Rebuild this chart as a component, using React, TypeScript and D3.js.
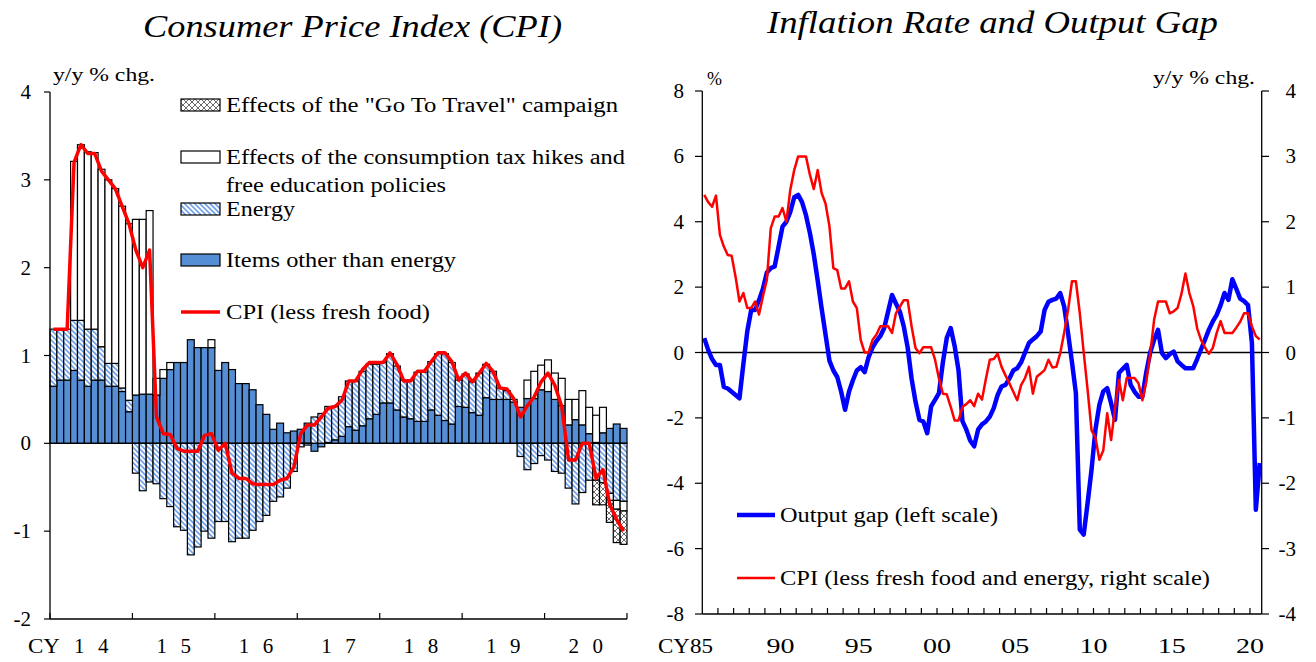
import React from "react";
import * as d3 from "d3";

const FONT = '"Liberation Serif", "Times New Roman", serif';

// ---------- left panel: CPI contributions, monthly Jan 2014 - Dec 2020
const cpiYears = ["14", "15", "16", "17", "18", "19", "20"];

const itemsOther = [
  0.65, 0.72, 0.72, 0.83, 0.72, 0.65, 0.72, 0.72, 0.65, 0.65, 0.59, 0.36,
  0.55, 0.56, 0.56, 0.55, 0.74, 0.84, 0.92, 0.92, 1.18, 1.09, 1.09, 1.09,
  0.83, 0.92, 0.84, 0.68, 0.68, 0.61, 0.44, 0.33, 0.16, 0.23, 0.12, 0.14,
  0.16, 0.23, -0.09, -0.04, 0.01, 0.04, 0.08, 0.19, 0.15, 0.2, 0.28, 0.33,
  0.46, 0.46, 0.38, 0.3, 0.28, 0.25, 0.25, 0.38, 0.32, 0.26, 0.22, 0.42,
  0.41, 0.35, 0.32, 0.52, 0.5, 0.5, 0.5, 0.47, 0.41, 0.51, 0.51, 0.61,
  0.59, 0.5, 0.43, 0.21, 0.27, 0.21, 0.11, 0.01, 0.12, 0.17, 0.22, 0.17,
];
const energy = [
  0.65, 0.58, 0.58, 0.57, 0.68, 0.65, 0.58, 0.38, 0.26, 0.26, 0.04, 0.13,
  -0.34, -0.54, -0.44, -0.46, -0.63, -0.72, -0.95, -0.99, -1.27, -1.18, -1.0, -1.08,
  -0.89, -0.89, -1.12, -1.08, -1.08, -0.99, -0.89, -0.82, -0.66, -0.61, -0.51, -0.32,
  -0.04, -0.02, 0.3, 0.34, 0.41, 0.38, 0.45, 0.52, 0.56, 0.62, 0.62, 0.57,
  0.46, 0.56, 0.5, 0.42, 0.44, 0.56, 0.56, 0.55, 0.7, 0.76, 0.7, 0.3,
  0.38, 0.35, 0.48, 0.38, 0.32, 0.13, 0.1, 0.03, -0.15, -0.3, -0.23, -0.14,
  -0.19, -0.32, -0.34, -0.51, -0.69, -0.56, -0.42, -0.42, -0.45, -0.57, -0.65, -0.66,
];
const taxEffect = [
  0, 0, 0, 1.81, 2.0, 2.02, 2.01, 2.02, 2.09, 1.99, 2.07, 2.01,
  2.0, 1.99, 2.09, 0.19, 0.1, 0.08, 0, 0, 0, 0, 0, 0.09,
  0, 0, 0, 0, 0, 0, 0, 0, 0, 0, 0, 0,
  0, 0, 0, 0, 0, 0, 0, 0, 0, 0, 0, 0,
  0, 0, 0, 0, 0, 0, 0, 0, 0, 0, 0, 0,
  0, 0, 0, 0, 0, 0, 0, 0, 0, 0.21, 0.31, 0.28,
  0.36, 0.3, 0.31, 0.29, 0.23, 0.39, 0.3, 0.31, 0.29, -0.08, -0.1, -0.11,
];
const goToTravel = [
  ...Array(79).fill(0),
  -0.28, -0.25, -0.25, -0.38, -0.38,
];
const cpiLessFresh = [
  1.3, 1.3, 1.3, 3.2, 3.4, 3.3, 3.3, 3.1, 3.0, 2.9, 2.7, 2.5,
  2.2, 2.0, 2.2, 0.3, 0.11, 0.1, -0.06, -0.09, -0.09, -0.09, 0.09, 0.11,
  -0.08, 0.0, -0.34, -0.4, -0.4, -0.46, -0.47, -0.47, -0.47, -0.42, -0.4, -0.27,
  0.11, 0.21, 0.21, 0.3, 0.4, 0.42, 0.49, 0.71, 0.71, 0.84, 0.92, 0.92,
  0.92, 1.03, 0.9, 0.71, 0.71, 0.82, 0.82, 0.93, 1.03, 1.03, 0.93, 0.72,
  0.8, 0.7, 0.8, 0.91, 0.82, 0.63, 0.62, 0.51, 0.3, 0.43, 0.53, 0.7,
  0.8, 0.66, 0.42, -0.19, -0.19, 0.0, 0.0, -0.4, -0.3, -0.7, -0.87, -1.0,
];

// ---------- right panel: quarterly 1985Q1 - 2020Q3
const gapLabels = ["CY85", "90", "95", "00", "05", "10", "15", "20"];
const outputGap = [
  0.44, 0.08, -0.2, -0.38, -0.38, -1.05, -1.1, -1.2, -1.3, -1.4, -0.35, 0.65,
  1.3, 1.3, 1.6, 1.95, 2.45, 2.58, 2.63, 3.24, 3.85, 4.0, 4.3, 4.75,
  4.82, 4.6, 4.2, 3.66, 3.0, 2.2, 1.35, 0.55, -0.25, -0.55, -0.75, -1.2,
  -1.75, -1.2, -0.85, -0.55, -0.45, -0.6, -0.15, 0.15, 0.35, 0.5, 0.75, 1.25,
  1.76, 1.5, 1.25, 0.8, 0.15, -0.8, -1.5, -2.06, -2.11, -2.47, -1.65, -1.45,
  -1.24, -0.3, 0.45, 0.75, 0.2, -0.55, -2.1, -2.36, -2.7, -2.87, -2.36, -2.2,
  -2.11, -1.96, -1.7, -1.3, -1.04, -0.99, -0.8, -0.55, -0.48, -0.3, 0.0, 0.29,
  0.4, 0.5, 0.64, 1.3, 1.55, 1.61, 1.65, 1.82, 1.41, 0.59, -0.3, -1.24,
  -5.42, -5.57, -4.6, -3.59, -2.36, -1.6, -1.19, -1.09, -1.55, -2.06, -0.63, -0.5,
  -0.38, -0.99, -1.2, -1.35, -1.35, -0.6, 0.0, 0.39, 0.69, -0.02, -0.17, -0.05,
  0.03, -0.27, -0.38, -0.48, -0.48, -0.48, -0.2, 0.1, 0.39, 0.7, 0.95, 1.15,
  1.45, 1.82, 1.61, 2.24, 1.95, 1.65, 1.57, 1.45, 0.29, -4.81, -3.38,
];
const cpiCoreCore = [
  2.41, 2.3, 2.23, 2.4, 1.8, 1.62, 1.49, 1.48, 1.16, 0.78, 0.91, 0.68,
  0.68, 0.78, 0.58, 0.86, 1.11, 1.9, 2.08, 2.08, 2.21, 2.0, 2.49, 2.79,
  3.0, 3.0, 3.0, 2.72, 2.5, 2.79, 2.44, 2.28, 1.93, 1.29, 1.26, 0.98,
  0.98, 1.09, 0.78, 0.68, 0.19, 0.0, 0.0, 0.19, 0.27, 0.4, 0.4, 0.4,
  0.3, 0.6, 0.7, 0.8, 0.8, 0.4, 0.07, -0.01, 0.08, 0.08, 0.08, -0.11,
  -0.4, -0.63, -0.64, -0.83, -1.04, -1.04, -0.83, -0.79, -0.73, -0.82, -0.63, -0.72,
  -0.4, -0.11, -0.1, -0.02, -0.22, -0.35, -0.47, -0.6, -0.73, -0.5, -0.39, -0.22,
  -0.63, -0.37, -0.32, -0.27, -0.11, -0.23, -0.22, -0.01, 0.3, 0.65, 1.09, 1.09,
  0.6, 0.0, -0.57, -1.19, -1.3, -1.64, -1.5, -0.93, -1.34, -0.85, -0.42, -0.73,
  -0.39, -0.39, -0.39, -0.47, -0.73, -0.45, -0.02, 0.5, 0.78, 0.78, 0.78, 0.6,
  0.63, 0.68, 0.9, 1.21, 0.91, 0.71, 0.37, 0.19, 0.08, -0.02, 0.07, 0.3,
  0.48, 0.3, 0.3, 0.3, 0.38, 0.47, 0.6, 0.6, 0.4, 0.25, 0.2,
];

const keys = ["items", "energy", "tax", "goto"] as const;
const fills: Record<string, string> = {
  items: "#558ED5",
  energy: "url(#hatchEnergy)",
  tax: "#ffffff",
  goto: "url(#crossHatch)",
};

// text stretched to the width it has in the original picture
const Label = ({ x, y, w, size = 20, anchor = "start", italic = false, children }: any) => (
  <text
    x={x}
    y={y}
    fontSize={size}
    textAnchor={anchor}
    fontStyle={italic ? "italic" : "normal"}
    textLength={w}
    lengthAdjust="spacingAndGlyphs"
  >
    {children}
  </text>
);

const LeftPanel = () => {
  const x = d3.scaleBand<number>().domain(d3.range(itemsOther.length)).range([50, 627]);
  const y = d3.scaleLinear().domain([-2, 4]).range([619, 92]);
  const rows = itemsOther.map((v, i) => ({
    items: v,
    energy: energy[i],
    tax: taxEffect[i],
    goto: goToTravel[i],
  }));
  const series = d3
    .stack<any>()
    .keys(keys as any)
    .offset(d3.stackOffsetDiverging)(rows);
  const bw = x.bandwidth();
  const line = d3
    .line<number>()
    .x((_, i) => (x(i) as number) + bw / 2)
    .y((d) => y(d));

  const legend = [
    { key: "goto", y: 99, text: [['Effects of the "Go To Travel" campaign', 392]] },
    {
      key: "tax",
      y: 151,
      text: [
        ["Effects of the consumption tax hikes and", 399],
        ["free education policies", 220],
      ],
    },
    { key: "energy", y: 203, text: [["Energy", 69]] },
    { key: "items", y: 254, text: [["Items other than energy", 230]] },
  ];

  return (
    <g>
      <Label x={143} y={37} w={419} size={32} italic>
        Consumer Price Index (CPI)
      </Label>
      <Label x={53} y={81} w={102} size={18}>y/y % chg.</Label>

      {series.map((s) => (
        <g key={s.key}>
          {s.map((d, i) =>
            d[1] - d[0] === 0 ? null : (
              <rect
                key={i}
                x={x(i)}
                width={bw}
                y={y(d[1])}
                height={y(d[0]) - y(d[1])}
                fill={fills[s.key]}
                stroke="#000"
                strokeWidth={1.2}
              />
            )
          )}
        </g>
      ))}

      <line x1={50} x2={627} y1={y(0)} y2={y(0)} stroke="#000" strokeWidth={1.3} />
      <path d={line(cpiLessFresh) || ""} fill="none" stroke="#ff0000" strokeWidth={3.5} strokeLinejoin="round" />

      {/* axes */}
      <line x1={50} x2={50} y1={y(4)} y2={y(-2)} stroke="#000" strokeWidth={1.3} />
      <line x1={50} x2={627} y1={y(-2)} y2={y(-2)} stroke="#000" strokeWidth={1.3} />
      {y.ticks(6).map((t) => (
        <g key={t}>
          <line x1={44} x2={50} y1={y(t)} y2={y(t)} stroke="#000" strokeWidth={1.2} />
          <text x={31} y={y(t) + 7} textAnchor="end" fontSize={21}>{t}</text>
        </g>
      ))}
      {d3.range(0, itemsOther.length + 1, 12).map((m) => {
        const xx = m === itemsOther.length ? 627 : (x(m) as number);
        return <line key={m} x1={xx} x2={xx} y1={y(-2)} y2={y(-2) - 6} stroke="#000" strokeWidth={1.2} />;
      })}
      <Label x={28} y={653} w={32} size={21}>CY</Label>
      {cpiYears.map((yr, i) => {
        const c = (x(i * 12) as number) + bw * 6;
        return (
          <text key={yr} y={653} fontSize={21} textAnchor="middle">
            <tspan x={c - 12}>{yr[0]}</tspan>
            <tspan x={c + 12}>{yr[1]}</tspan>
          </text>
        );
      })}

      {/* legend */}
      {legend.map((l) => (
        <g key={l.key}>
          <rect x={181} y={l.y} width={39} height={12} fill={fills[l.key]} stroke="#000" strokeWidth={1.2} />
          {l.text.map(([t, w]: any, j) => (
            <Label key={j} x={226} y={l.y + 13 + j * 28} w={w}>{t}</Label>
          ))}
        </g>
      ))}
      <line x1={181} x2={220} y1={312} y2={312} stroke="#ff0000" strokeWidth={3.5} />
      <Label x={226} y={319} w={204}>CPI (less fresh food)</Label>
    </g>
  );
};

const RightPanel = () => {
  const x = d3.scaleBand<number>().domain(d3.range(outputGap.length)).range([702.3, 1261.7]);
  const yL = d3.scaleLinear().domain([-8, 8]).range([614, 91]);
  const yR = d3.scaleLinear().domain([-4, 4]).range([614, 91]);
  const bw = x.bandwidth();
  const cx = (i: number) => (x(i) as number) + bw / 2;
  const gapLine = d3.line<number>().x((_, i) => cx(i)).y((d) => yL(d));
  const cpiLine = d3.line<number>().x((_, i) => cx(i)).y((d) => yR(d));
  const yearStarts = d3.range(0, outputGap.length, 4);

  return (
    <g>
      <Label x={767} y={33} w={451} size={31} italic>
        Inflation Rate and Output Gap
      </Label>
      <text x={707} y={85} fontSize={18}>%</text>
      <Label x={1153} y={84} w={102} size={18}>y/y % chg.</Label>

      <line x1={702.3} x2={1261.7} y1={yL(0)} y2={yL(0)} stroke="#000" strokeWidth={1.3} />
      <path d={gapLine(outputGap) || ""} fill="none" stroke="#0000ff" strokeWidth={4.5} strokeLinejoin="round" />
      <path d={cpiLine(cpiCoreCore) || ""} fill="none" stroke="#ff0000" strokeWidth={2.5} strokeLinejoin="round" />

      {/* axes */}
      <line x1={702.3} x2={702.3} y1={91} y2={614} stroke="#000" strokeWidth={1.3} />
      <line x1={1261.7} x2={1261.7} y1={91} y2={614} stroke="#000" strokeWidth={1.3} />
      <line x1={702.3} x2={1261.7} y1={614} y2={614} stroke="#000" strokeWidth={1.3} />
      {yL.ticks(8).map((t) => (
        <g key={t}>
          <line x1={695} x2={702.3} y1={yL(t)} y2={yL(t)} stroke="#000" strokeWidth={1.2} />
          <text x={684} y={yL(t) + 7} textAnchor="end" fontSize={21}>{t}</text>
        </g>
      ))}
      {yR.ticks(8).map((t) => (
        <g key={t}>
          <line x1={1261.7} x2={1269} y1={yR(t)} y2={yR(t)} stroke="#000" strokeWidth={1.2} />
          <text x={1296} y={yR(t) + 7} textAnchor="end" fontSize={21}>{t}</text>
        </g>
      ))}
      {yearStarts.slice(1).map((q) => (
        <line key={q} x1={x(q)} x2={x(q)} y1={614} y2={608} stroke="#000" strokeWidth={1.2} />
      ))}
      {gapLabels.map((lab, i) => {
        const xx = x(i * 20) as number;
        return i === 0 ? (
          <Label key={lab} x={658} y={653} w={55} size={21}>{lab}</Label>
        ) : (
          <Label key={lab} x={xx} y={653} w={28} size={21} anchor="middle">{lab}</Label>
        );
      })}

      {/* legend */}
      <line x1={737} x2={775} y1={515} y2={515} stroke="#0000ff" strokeWidth={4.5} />
      <Label x={780} y={522} w={218}>Output gap (left scale)</Label>
      <line x1={737} x2={775} y1={578} y2={578} stroke="#ff0000" strokeWidth={2.5} />
      <Label x={780} y={585} w={430}>CPI (less fresh food and energy, right scale)</Label>
    </g>
  );
};

const App = () => (
  <svg width={1316} height={662} style={{ display: "block", position: "absolute", left: 0, top: 0 }} fontFamily={FONT}>
    <defs>
      <pattern id="hatchEnergy" patternUnits="userSpaceOnUse" width={3.6} height={3.6} patternTransform="rotate(-45)">
        <rect width={3.6} height={3.6} fill="#ffffff" />
        <line x1={0.9} x2={0.9} y1={0} y2={3.6} stroke="#5B93E3" strokeWidth={1.5} />
      </pattern>
      <pattern id="crossHatch" patternUnits="userSpaceOnUse" width={6} height={6}>
        <rect width={6} height={6} fill="#ffffff" />
        <path d="M0,0 L6,6 M6,0 L0,6" stroke="#444" strokeWidth={0.8} />
      </pattern>
    </defs>
    <rect width={1316} height={662} fill="#fff" />
    <LeftPanel />
    <RightPanel />
  </svg>
);

export default App;
